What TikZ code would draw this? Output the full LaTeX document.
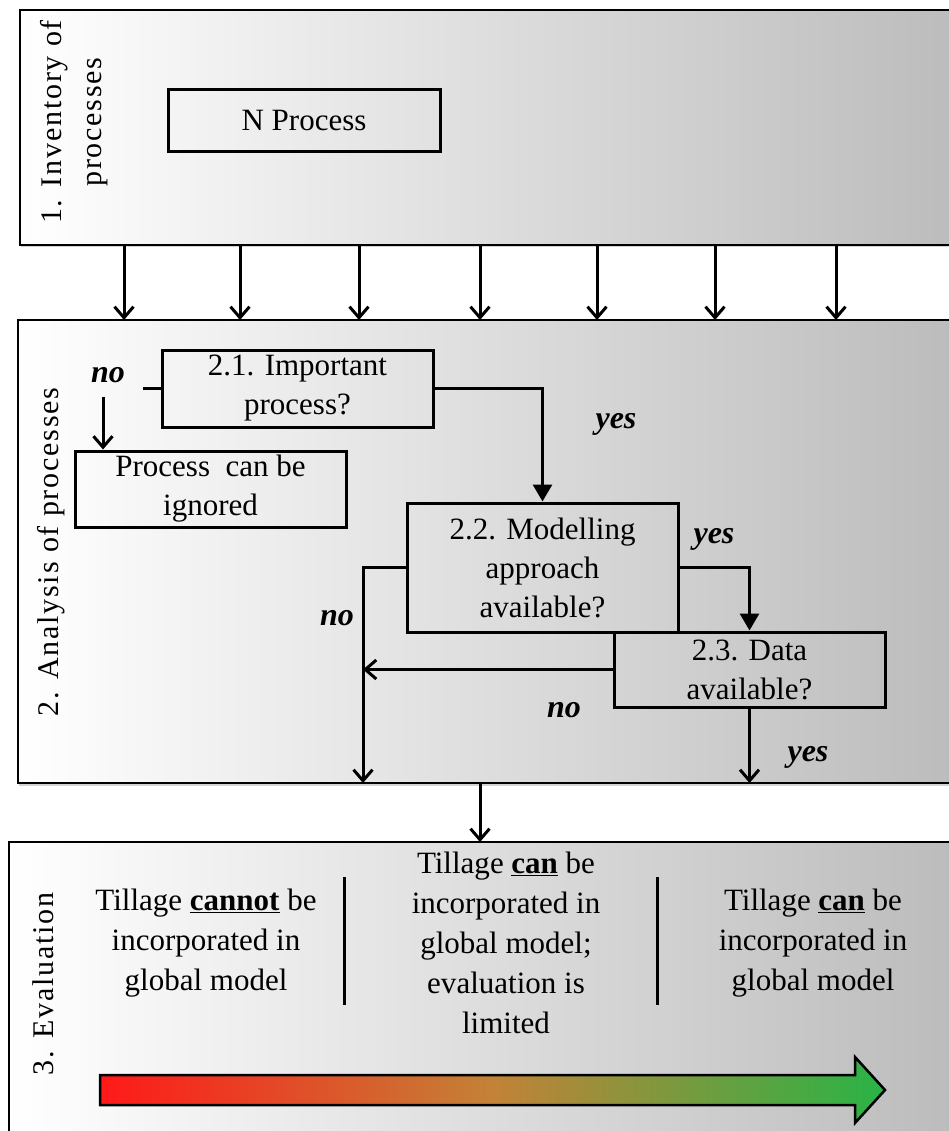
\documentclass[tikz,border=0pt]{standalone}
\usepackage{fontspec}
\setmainfont{Liberation Serif}
\newfontfamily\stagefont[LetterSpace=6]{Liberation Serif}
\usetikzlibrary{arrows.meta,shadows}
\definecolor{arrowred}{RGB}{255,25,25}
\definecolor{arrowmid}{RGB}{195,130,55}
\definecolor{arrowgreen}{RGB}{40,180,70}
\tikzset{
  panel/.style  = {draw, line width=1.5pt, anchor=north west, outer sep=0pt,
                   left color=white, right color=black!27,
                   drop shadow={opacity=0.35, shadow xshift=1pt, shadow yshift=-2.5pt}},
  qbox/.style   = {draw, line width=3pt, inner sep=0pt, minimum width=271pt,
                   align=center, font=\fontsize{31}{39}\selectfont},
  stage/.style  = {rotate=90, align=center, inner sep=0pt,
                   font=\stagefont\fontsize{30}{40}\selectfont},
  answer/.style = {anchor=base, inner sep=0pt, font=\fontsize{32}{38}\selectfont\bfseries\itshape},
  outcome/.style = {align=center, inner sep=0pt, font=\fontsize{31}{40}\selectfont},
  barb/.style   = {line width=3pt, -{Straight Barb[length=11pt,width=19pt,line width=3pt]}},
  tri/.style    = {line width=3pt, -{Triangle[length=17pt,width=19pt]}}
}

\begin{document}
\begin{tikzpicture}[x=1pt, y=-1pt]
\useasboundingbox (0,0) rectangle (949,1131);
\clip (0,0) rectangle (949,1131);

% the three stages
\node[panel, minimum width=960pt, minimum height=235pt] (p1) at (20,10) {};
\node[panel, minimum width=960pt, minimum height=463pt] (p2) at (18,320) {};
\node[panel, minimum width=970pt, minimum height=320pt] (p3) at (9,842) {};

\node[stage] (t1) at (74,122) {1. Inventory of\\processes};
\node[stage] (t2) at (51,552) {2. Analysis of processes};
\node[stage] (t3) at (43,984) {3. Evaluation};

% stage 1
\node[qbox, minimum width=272pt, minimum height=62pt] (np) at (304,121) {N Process};

\foreach \x in {124,240,359,480,597,715,836}
  \draw[barb] (p1.south -| \x,0) -- (p2.north -| \x,0);

% stage 2, the questions
\node[qbox, minimum height=77pt] (q21) at (297.5,388.5) {2.1. Important\\process?};
\node[qbox, minimum height=76pt] (ign) at (210.5,489) {Process\ \ can be\\ignored};
\node[qbox, minimum height=129pt] (q22) at (542.5,567.5) {2.2. Modelling\\approach\\available?};
\node[qbox, minimum height=75pt] (q23) at (749.5,669.5) {2.3. Data\\available?};

\coordinate (nostub) at (143,388.5);
\coordinate (notop) at (103,397);
\coordinate (nox) at (363,567.5);

\draw[line width=3pt] (q21.west) -- (nostub);
\draw[barb] (notop) -- (notop |- ign.north);
\draw[tri] (q21.east) -| (q22.north);
\draw[tri] (q22.east) -| (q23.north);
\draw[barb] (q22.west) -- (nox) -- (nox |- p2.south);
\draw[barb] (q23.west) -- (q23.west -| nox);
\draw[barb] (q23.south) -- (q23.south |- p2.south);

\node[answer] (no1) at (108,382) {no};
\node[answer] (yes1) at (616,428) {yes};
\node[answer] (yes2) at (714,543) {yes};
\node[answer] (no2) at (337,625) {no};
\node[answer] (no3) at (564,717) {no};
\node[answer] (yes3) at (808,761) {yes};

\draw[barb] (p2.south -| 480,0) -- (p3.north -| 480,0);

% stage 3, the outcomes
\node[outcome] (c1) at (206,943) {Tillage \underline{\textbf{cannot}} be\\incorporated in\\global model};
\node[outcome] (c2) at (506,943) {Tillage \underline{\textbf{can}} be\\incorporated in\\global model;\\evaluation is\\limited};
\node[outcome] (c3) at (813,943) {Tillage \underline{\textbf{can}} be\\incorporated in\\global model};

\draw[line width=3pt] (344,877) -- (344,1005);
\draw[line width=3pt] (657,877) -- (657,1005);

\shadedraw[line width=2.5pt, left color=arrowred, right color=arrowgreen, middle color=arrowmid]
  (100,1075) -- (855,1075) -- (855,1057) -- (885,1090) -- (855,1123)
  -- (855,1105) -- (100,1105) -- cycle;
\end{tikzpicture}
\end{document}
